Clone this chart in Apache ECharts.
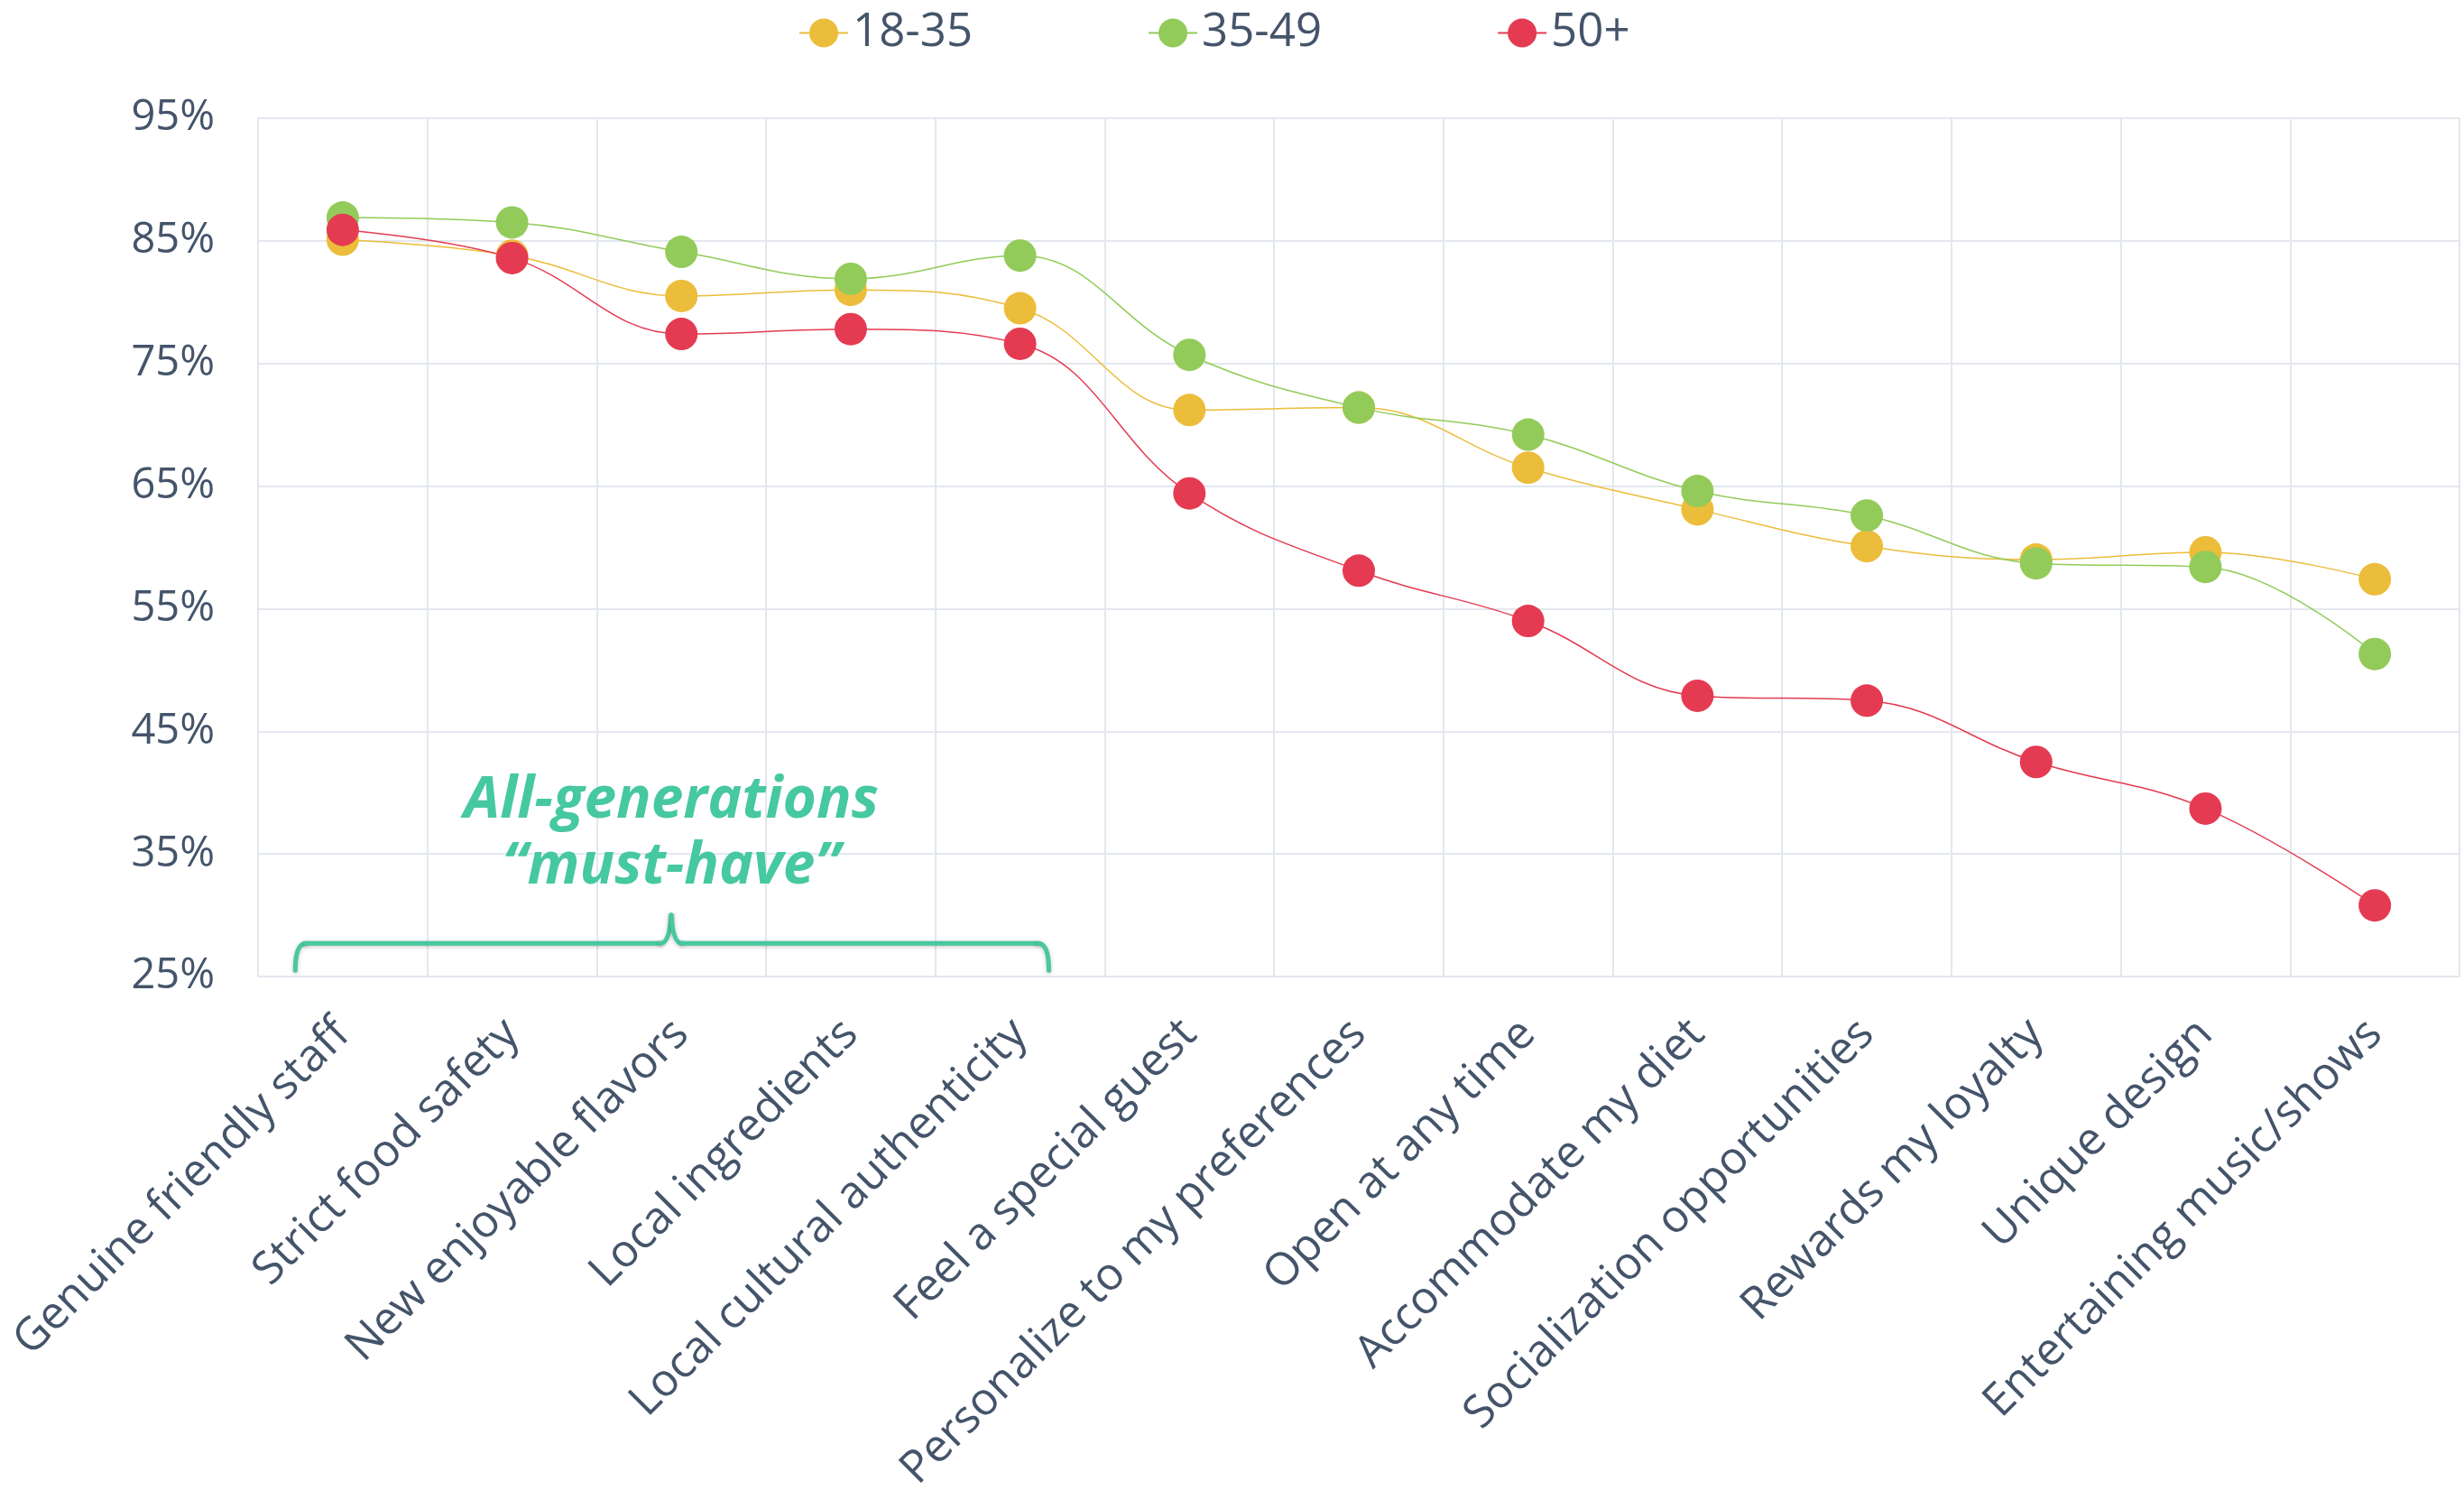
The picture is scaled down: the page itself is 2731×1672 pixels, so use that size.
<!DOCTYPE html>
<html>
<head>
<meta charset="utf-8">
<script src="https://cdn.jsdelivr.net/npm/echarts@6/dist/echarts.min.js"></script>
<style>
html,body{margin:0;padding:0;background:#fff;}
#chart{width:2731px;height:1672px;}
</style>
</head>
<body>
<div id="chart"></div>
<script>
const categories = [
  'Genuine friendly staff','Strict food safety','New enjoyable flavors','Local ingredients',
  'Local cultural authenticity','Feel a special guest','Personalize to my preferences',
  'Open at any time','Accommodate my diet','Socialization opportunities','Rewards my loyalty',
  'Unique design','Entertaining music/shows'
];
const seriesNames = ['18-35','35-49','50+'];
const values1835 = [85.1, 83.8, 80.5, 81.0, 79.5, 71.2, 71.4, 66.5, 63.1, 60.1, 59.0, 59.6, 57.4];
const values3549 = [86.9, 86.5, 84.1, 81.9, 83.8, 75.7, 71.4, 69.2, 64.6, 62.6, 58.7, 58.4, 51.3];
const values50p  = [85.9, 83.6, 77.4, 77.8, 76.6, 64.4, 58.1, 54.0, 47.9, 47.5, 42.5, 38.7, 30.8];
const yTicks = [25, 35, 45, 55, 65, 75, 85, 95];
const annotationLines = ['All-generations', '\u201Cmust-have\u201D'];

const colors = ['#ECBD3A', '#93CB5A', '#E43B52'];
const textColor = '#44546A';
const gridColor = '#E3E7EE';
const teal = '#46C8A0';
const FONT = '"Open Sans", "Noto Sans", sans-serif';

const chart = echarts.init(document.getElementById('chart'), null, {renderer: 'canvas'});

function mkSeries(name, data, color) {
  return {
    name: name, type: 'line', data: data, smooth: 0.4,
    symbol: 'circle', symbolSize: 36,
    lineStyle: {color: color, width: 1.5},
    itemStyle: {color: color},
    emphasis: {disabled: true}
  };
}

chart.setOption({
  animation: false,
  backgroundColor: '#fff',
  textStyle: {fontFamily: FONT},
  legend: {
    top: 6, left: 880,
    itemWidth: 54, itemHeight: 40, itemGap: 194,
    textStyle: {color: textColor, fontSize: 51, fontFamily: FONT},
    data: seriesNames
  },
  grid: {left: 286, right: 5, top: 131, bottom: 590, containLabel: false},
  xAxis: {
    type: 'category', data: categories, boundaryGap: true,
    axisLine: {show: true, lineStyle: {color: gridColor, width: 2}},
    axisTick: {show: false},
    splitLine: {show: true, lineStyle: {color: gridColor, width: 2}},
    axisLabel: {rotate: 45, color: textColor, fontSize: 50, margin: 56, interval: 0, fontFamily: FONT}
  },
  yAxis: {
    type: 'value', min: yTicks[0], max: yTicks[yTicks.length - 1], interval: 10,
    axisLine: {show: true, lineStyle: {color: gridColor, width: 2}},
    axisTick: {show: false},
    splitLine: {show: true, lineStyle: {color: gridColor, width: 2}},
    axisLabel: {formatter: '{value}%', color: textColor, fontSize: 47, margin: 48, fontFamily: FONT}
  },
  series: [
    mkSeries(seriesNames[0], values1835, colors[0]),
    mkSeries(seriesNames[1], values3549, colors[1]),
    mkSeries(seriesNames[2], values50p, colors[2])
  ]
});

// Annotation bracket positioned in data space
function px(idx, val) {
  const a = chart.convertToPixel({gridIndex: 0}, [0, val]);
  const b = chart.convertToPixel({gridIndex: 0}, [1, val]);
  const bw = b[0] - a[0];
  return [a[0] + idx * bw, a[1]];
}
const pL = px(-0.28, 27.7), pR = px(4.17, 27.7), pM = px(1.94, 27.7);
const yEnd = px(0, 25.5)[1], yTip = px(0, 30.0)[1];
const yLine = pL[1], L = pL[0], R = pR[0], M = pM[0], r = 12;
const braceStyle = {stroke: teal, lineWidth: 5, lineCap: 'round', fill: null,
  shadowBlur: 4, shadowColor: 'rgba(0,0,0,0.25)', shadowOffsetY: 1};
const t1 = px(1.94, 39.3), t2 = px(1.94, 33.9);

chart.setOption({
  graphic: [
    {type: 'bezierCurve', z: 100, shape: {x1: L, y1: yEnd, cpx1: L, cpy1: yLine, x2: L + r, y2: yLine}, style: braceStyle},
    {type: 'line', z: 100, shape: {x1: L + r, y1: yLine, x2: M - 12, y2: yLine}, style: braceStyle},
    {type: 'bezierCurve', z: 100, shape: {x1: M - 12, y1: yLine, cpx1: M - 2, cpy1: yLine, x2: M, y2: yTip}, style: braceStyle},
    {type: 'bezierCurve', z: 100, shape: {x1: M, y1: yTip, cpx1: M + 2, cpy1: yLine, x2: M + 12, y2: yLine}, style: braceStyle},
    {type: 'line', z: 100, shape: {x1: M + 12, y1: yLine, x2: R - r, y2: yLine}, style: braceStyle},
    {type: 'bezierCurve', z: 100, shape: {x1: R - r, y1: yLine, cpx1: R, cpy1: yLine, x2: R, y2: yEnd}, style: braceStyle},
    {type: 'text', z: 100, x: t1[0], y: t1[1],
     style: {text: annotationLines[0], fill: teal, font: 'italic bold 64px ' + FONT, align: 'center', verticalAlign: 'middle'}},
    {type: 'text', z: 100, x: t2[0], y: t2[1],
     style: {text: annotationLines[1], fill: teal, font: 'italic bold 64px ' + FONT, align: 'center', verticalAlign: 'middle'}}
  ]
});
</script>
</body>
</html>
